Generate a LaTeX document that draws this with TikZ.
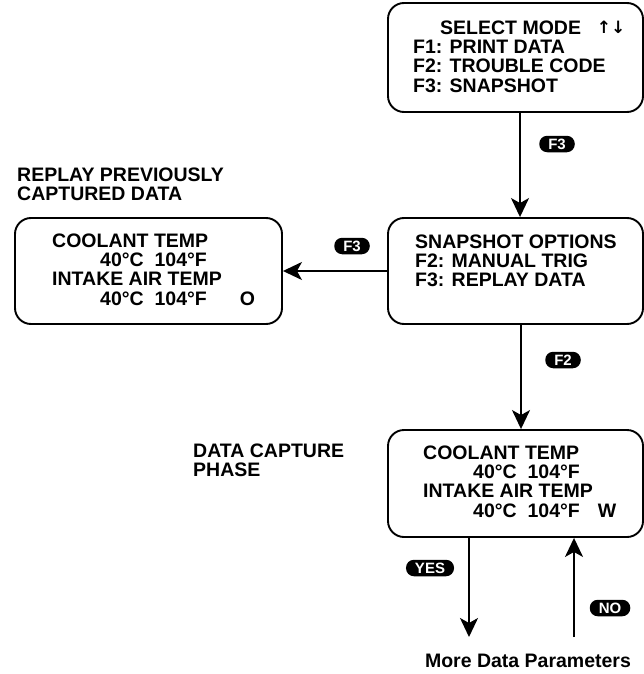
\documentclass[tikz,border=0pt]{standalone}
\usepackage{fontspec}
\setmainfont{Liberation Sans}
\newfontfamily\symfont{DejaVu Sans}
\usetikzlibrary{arrows.meta,positioning,calc}
\tikzset{
  screen/.style={draw,line width=1.9pt,rounded corners=16pt,minimum width=255pt,inner sep=0pt},
  scrtext/.style={anchor=north west,align=left,inner sep=0pt,font=\fontsize{19.5}{19.3}\selectfont\bfseries},
  flow/.style={line width=1.9pt,-{Stealth[length=19pt,width=18pt,inset=5pt]}},
  keycap/.style={fill=black,text=white,rounded corners=8pt,minimum height=16.5pt,inner xsep=9pt,inner ysep=0pt,font=\fontsize{15}{15}\selectfont\bfseries},
}
\newcommand{\keybadge}[3]{\node[keycap] (#1) at #2 {#3};}

\begin{document}
\begin{tikzpicture}[x=1pt,y=-1pt]
  \useasboundingbox (0,0) rectangle (644,674);
  % screens
  \node[screen,minimum height=109pt] (mode) at (515.5,57.5) {};
  \node[screen,minimum height=106pt] (opts) at (515.5,271) {};
  \node[screen,minimum width=267pt,minimum height=106pt] (replay) at (148.5,271) {};
  \node[screen,minimum height=107pt] (capture) at (515.5,483.5) {};
  % screen texts
  \node[scrtext] (modetxt) at (413,20.5) {\hspace*{27pt}SELECT MODE\\F1: PRINT DATA\\F2: TROUBLE CODE\\F3: SNAPSHOT};
  \node[anchor=base,inner sep=0pt,font=\fontsize{17}{17}\symfont\bfseries] (updown) at (611,34) {↑↓};
  \node[scrtext] (optstxt) at (415,234.5) {SNAPSHOT OPTIONS\\F2: MANUAL TRIG\\F3: REPLAY DATA};
  \node[scrtext] (replaytxt) at (52,233.5) {COOLANT TEMP\\\hspace*{48pt}40°C\ \ 104°F\\INTAKE AIR TEMP\\\hspace*{48pt}40°C\ \ 104°F\hspace{33pt}O};
  \node[scrtext] (capturetxt) at (423,445.5) {COOLANT TEMP\\\hspace*{50pt}40°C\ \ 104°F\\INTAKE AIR TEMP\\\hspace*{50pt}40°C\ \ 104°F\hspace{18pt}W};
  % captions
  \node[scrtext] (replaylbl) at (17,167.5) {REPLAY PREVIOUSLY\\CAPTURED DATA};
  \node[scrtext] (capturelbl) at (193,443.5) {DATA CAPTURE\\PHASE};
  \node[anchor=base,inner sep=0pt,font=\fontsize{19.5}{19.3}\selectfont\bfseries] (more) at (528,667) {More Data Parameters};
  % key flow
  \coordinate (yesend) at (469,637);
  \coordinate (noend) at (574,637);
  \draw[flow] ([xshift=4.5pt]mode.south) -- ([xshift=4.5pt]opts.north);
  \draw[flow] (opts.west) -- (replay.east);
  \draw[flow] ([xshift=5.5pt]opts.south) -- ([xshift=5.5pt]capture.north);
  \draw[flow] (capture.south -| yesend) -- (yesend);
  \draw[flow] (noend) -- (capture.south -| noend);
  \keybadge{kf3a}{(557,144)}{F3}
  \keybadge{kf3b}{(352,246)}{F3}
  \keybadge{kf2}{(563,360)}{F2}
  \keybadge{kyes}{(430,568)}{YES}
  \keybadge{kno}{(610,608)}{NO}
\end{tikzpicture}
\end{document}
